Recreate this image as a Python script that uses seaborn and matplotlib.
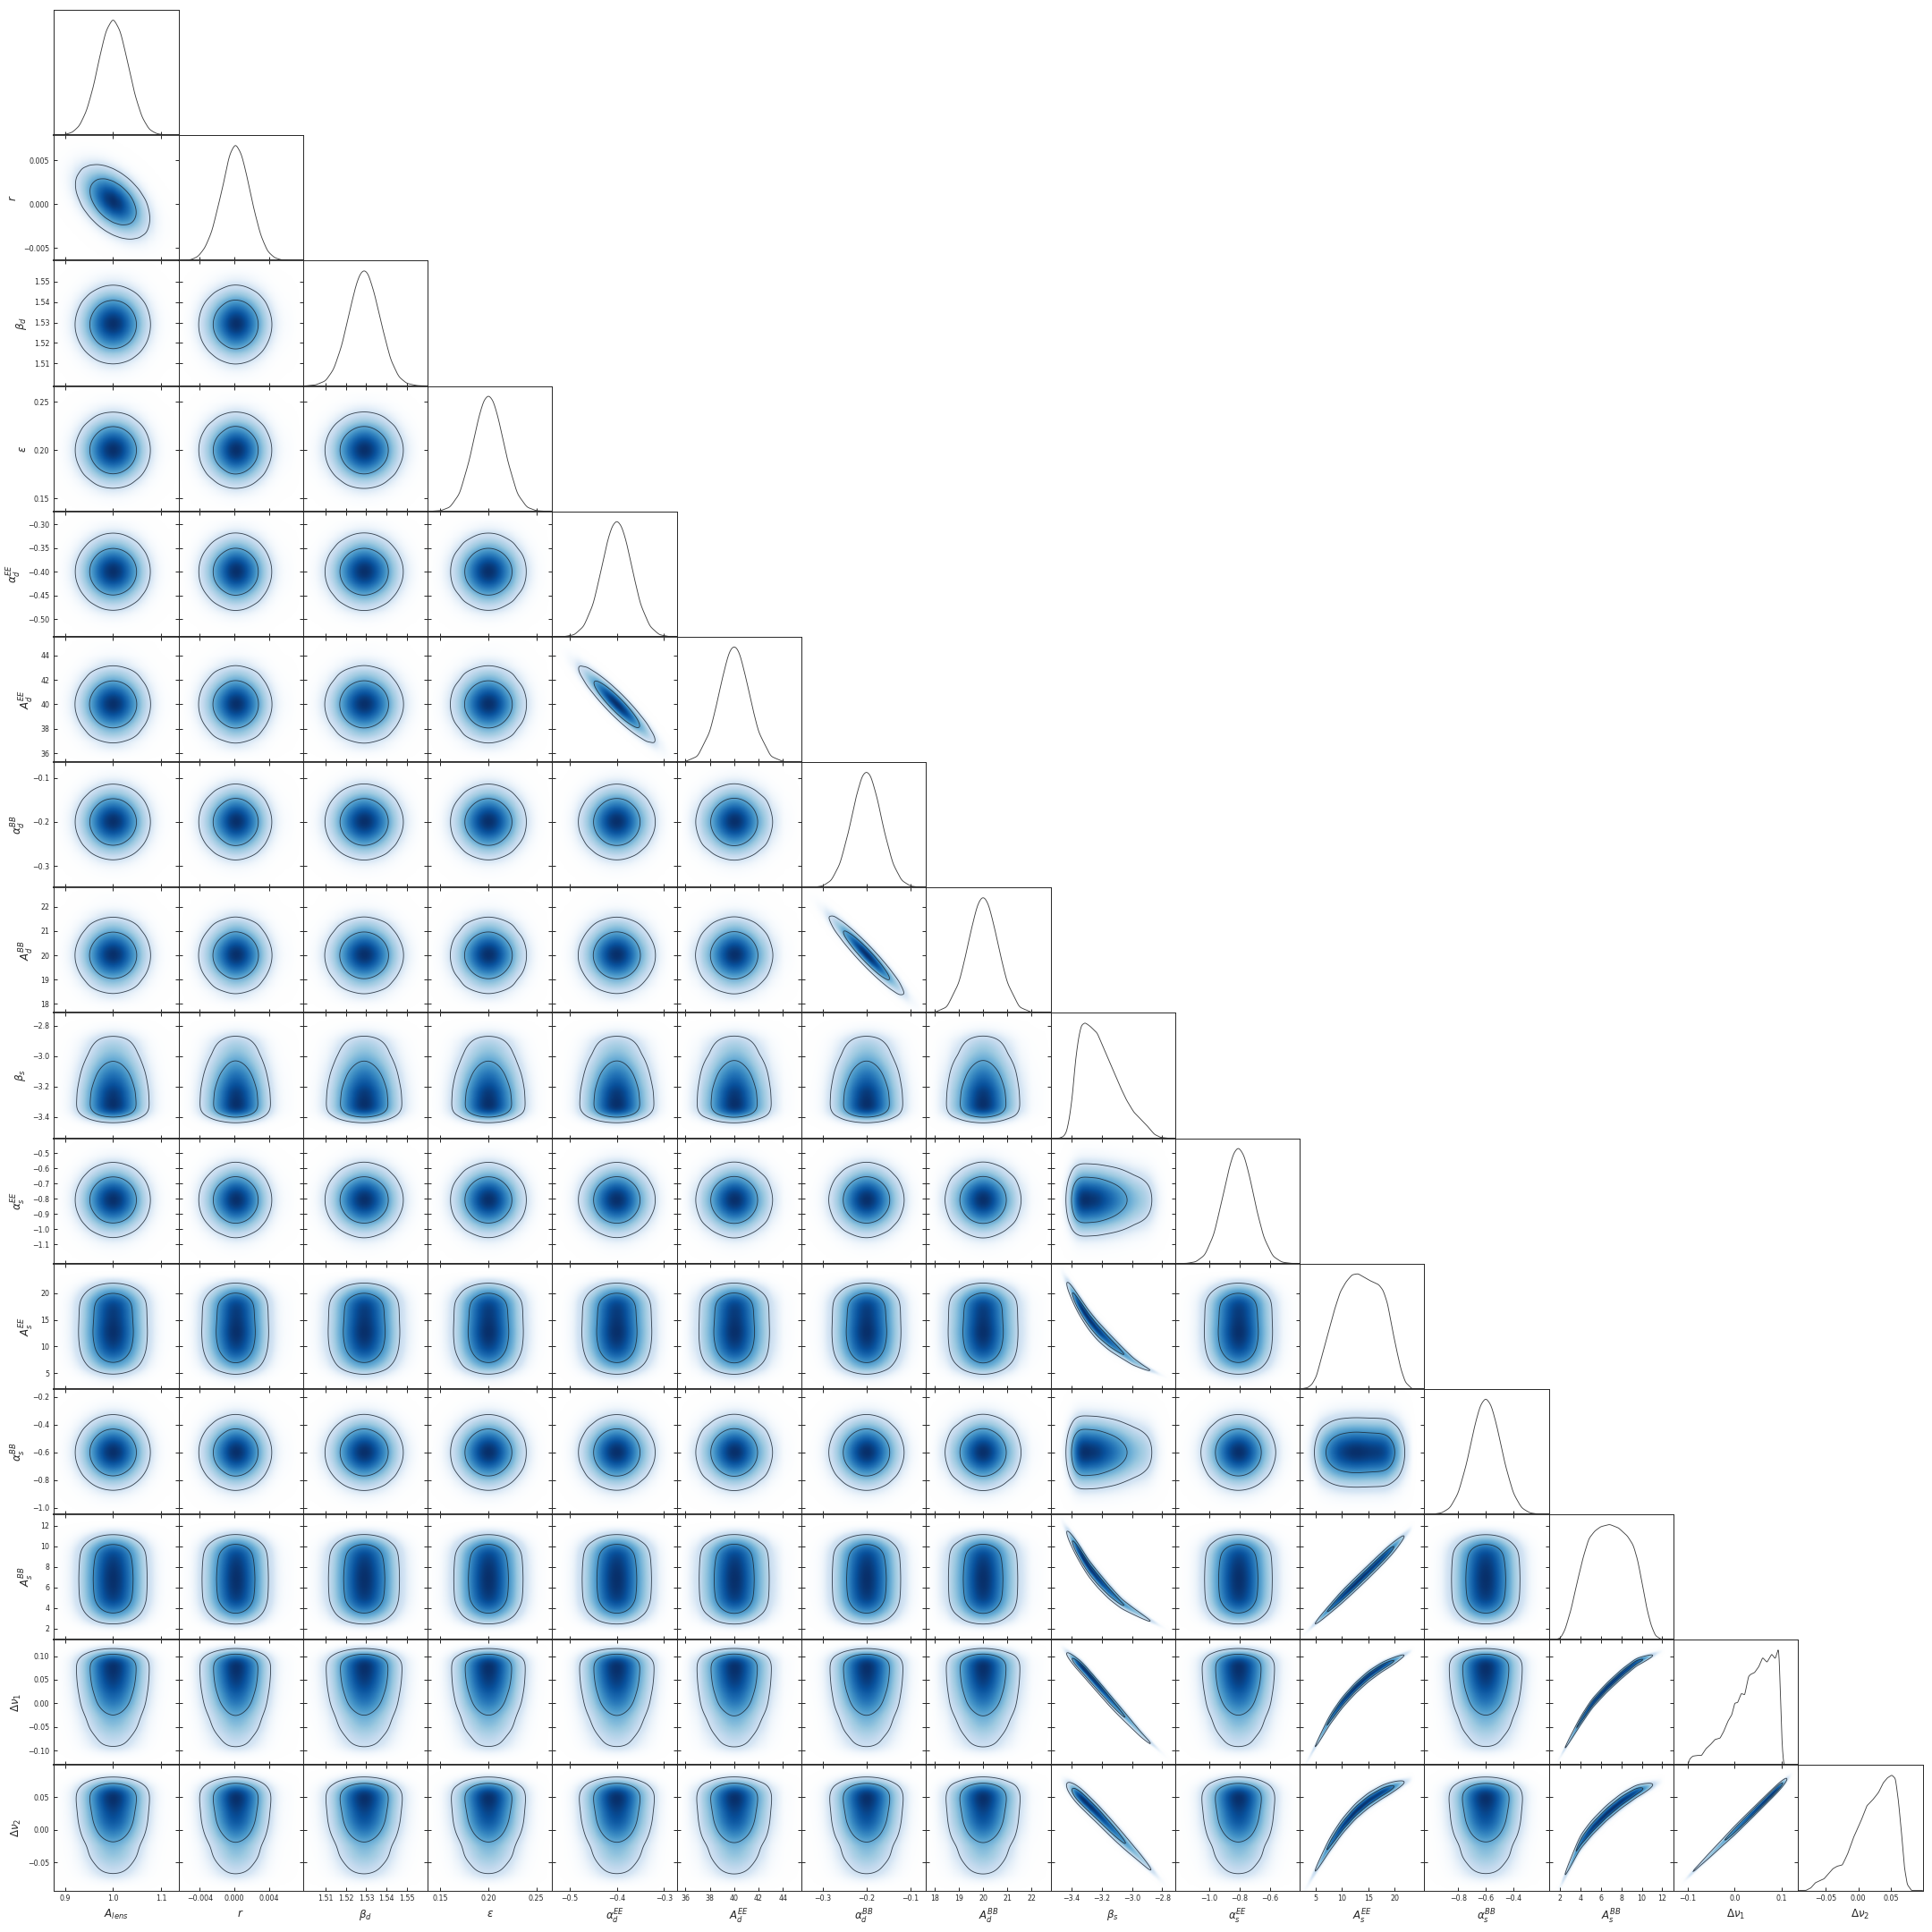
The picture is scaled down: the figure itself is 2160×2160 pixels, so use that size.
import numpy as np
import seaborn as sns
import matplotlib.pyplot as plt
from matplotlib.colors import ListedColormap, PowerNorm

# Parameter names, axis ranges and ticks
labels = [r'$A_{lens}$', r'$r$', r'$\beta_d$', r'$\epsilon$', r'$\alpha_d^{EE}$', r'$A_d^{EE}$',
          r'$\alpha_d^{BB}$', r'$A_d^{BB}$', r'$\beta_s$', r'$\alpha_s^{EE}$', r'$A_s^{EE}$',
          r'$\alpha_s^{BB}$', r'$A_s^{BB}$', r'$\Delta\nu_1$', r'$\Delta\nu_2$']
limits = [(0.877, 1.136), (-0.00645, 0.0079), (1.4989, 1.5603), (0.1367, 0.2665), (-0.537, -0.2727),
          (35.29, 45.52), (-0.348, -0.0646), (17.63, 22.8), (-3.539, -2.714), (-1.227, -0.402),
          (2.0, 25.6), (-1.046, -0.142), (0.904, 13.09), (-0.1305, 0.1348), (-0.0927, 0.0992)]
xticks = [[0.9, 1.0, 1.1], [-0.004, 0.0, 0.004], [1.51, 1.52, 1.53, 1.54, 1.55], [0.15, 0.20, 0.25],
          [-0.5, -0.4, -0.3], [36, 38, 40, 42, 44], [-0.3, -0.2, -0.1], [18, 19, 20, 21, 22],
          [-3.4, -3.2, -3.0, -2.8], [-1.0, -0.8, -0.6], [5, 10, 15, 20], [-0.8, -0.6, -0.4],
          [2, 4, 6, 8, 10, 12], [-0.1, 0.0, 0.1], [-0.05, 0.0, 0.05]]
yticks = [[], [-0.005, 0.0, 0.005], [1.51, 1.52, 1.53, 1.54, 1.55], [0.15, 0.20, 0.25],
          [-0.50, -0.45, -0.40, -0.35, -0.30], [36, 38, 40, 42, 44], [-0.3, -0.2, -0.1],
          [18, 19, 20, 21, 22], [-3.4, -3.2, -3.0, -2.8], [-1.1, -1.0, -0.9, -0.8, -0.7, -0.6, -0.5],
          [5, 10, 15, 20], [-1.0, -0.8, -0.6, -0.4, -0.2], [2, 4, 6, 8, 10, 12],
          [-0.10, -0.05, 0.0, 0.05, 0.10], [-0.05, 0.0, 0.05]]

# 1D curves: x position and height relative to the peak
a_lens_x = [0.88, 0.90, 0.915, 0.93, 0.945, 0.96, 0.97, 0.985, 1.0, 1.015, 1.03, 1.045, 1.06, 1.075, 1.09, 1.105, 1.13]
a_lens_h = [0, .006, .024, .08, .21, .43, .63, .89, 1, .89, .63, .35, .155, .05, .014, .003, 0]
r_x = [-.0060, -.0050, -.0042, -.0034, -.0026, -.0018, -.0012, -.0006, .0001, .0008, .0014, .0022, .0030, .0038, .0046, .0054, .0072]
r_h = [0, .008, .035, .11, .25, .49, .68, .90, 1, .91, .73, .45, .22, .08, .025, .006, 0]
beta_d_x = [1.500, 1.505, 1.510, 1.514, 1.518, 1.522, 1.525, 1.527, 1.529, 1.531, 1.534, 1.538, 1.542, 1.546, 1.550, 1.555, 1.560]
beta_d_h = [.001, .008, .044, .144, .35, .655, .87, .966, 1, .966, .80, .5, .23, .08, .022, .003, 0]
eps_x = [.14, .15, .16, .17, .18, .185, .19, .195, .20, .205, .21, .215, .22, .23, .24, .25, .26]
eps_h = [.001, .005, .036, .152, .435, .625, .81, .95, 1, .95, .81, .625, .435, .152, .036, .005, .001]
alpha_de_x = [-.53, -.51, -.49, -.47, -.45, -.435, -.42, -.41, -.40, -.39, -.38, -.365, -.35, -.33, -.31, -.29, -.275]
alpha_de_h = [0, .002, .017, .09, .28, .54, .82, .95, 1, .95, .82, .54, .28, .09, .017, .002, 0]
a_de_x = [35.5, 36, 37, 38, 38.5, 39, 39.5, 39.75, 40, 40.25, 40.5, 41, 41.5, 42, 43, 44, 45.3]
a_de_h = [0, .005, .05, .26, .47, .71, .92, .98, 1, .98, .92, .71, .47, .26, .05, .005, 0]
alpha_db_x = [-.345, -.32, -.30, -.28, -.26, -.24, -.225, -.21, -.20, -.19, -.175, -.16, -.14, -.12, -.10, -.08, -.065]
alpha_db_h = [0, .002, .012, .06, .205, .49, .76, .96, 1, .96, .76, .49, .205, .06, .012, .002, 0]
a_db_x = [17.7, 18, 18.5, 19, 19.25, 19.5, 19.75, 19.9, 20, 20.1, 20.25, 20.5, 20.75, 21, 21.5, 22, 22.7]
a_db_h = [0, .005, .05, .26, .47, .71, .92, .985, 1, .985, .92, .71, .47, .26, .05, .005, 0]
beta_s_x = [-3.481, -3.452, -3.433, -3.414, -3.394, -3.375, -3.355, -3.336, -3.311, -3.278, -3.23, -3.191, -3.152, -3.113, -3.075, -3.036, -2.988, -2.949, -2.9, -2.852, -2.813, -2.765]
beta_s_h = [0, .016, .055, .174, .37, .66, .858, .976, 1, .97, .91, .79, .67, .555, .437, .33, .226, .174, .108, .034, .008, 0]
alpha_se_x = [-1.22, -1.15, -1.09, -1.03, -.97, -.91, -.87, -.84, -.808, -.77, -.73, -.69, -.64, -.58, -.52, -.46, -.41]
alpha_se_h = [0, .002, .015, .073, .25, .58, .815, .947, 1, .926, .726, .475, .224, .063, .012, .002, 0]
a_se_x = [2.36, 3.48, 4.33, 5.17, 6.29, 7.42, 8.54, 9.66, 10.79, 11.91, 13.03, 14.16, 15.28, 16.97, 17.81, 18.65, 19.49, 20.34, 21.18, 22.02, 23.15]
a_se_h = [.002, .01, .04, .11, .30, .49, .68, .84, .93, .99, 1, .97, .94, .905, .855, .74, .53, .34, .17, .057, .008]
alpha_sb_x = [-1.03, -.98, -.92, -.86, -.80, -.74, -.68, -.64, -.60, -.56, -.52, -.46, -.40, -.34, -.28, -.22, -.15]
alpha_sb_h = [0, .002, .012, .055, .18, .43, .76, .934, 1, .934, .76, .43, .18, .055, .012, .002, 0]
a_sb_x = [1.62, 2.06, 2.49, 3.07, 3.65, 4.23, 4.81, 5.39, 5.97, 6.84, 7.71, 8.58, 9.16, 9.59, 10.03, 10.46, 10.9, 11.33, 11.91]
a_sb_h = [.0025, .016, .087, .26, .49, .705, .876, .942, .98, 1, .97, .90, .82, .69, .49, .28, .126, .034, .003]
dnu1_x = [-.1, -.0956, -.0894, -.08, -.0706, -.0613, -.0519, -.0425, -.0313, -.0238, -.0144, -.00625, 0, .00625, .01375, .02125, .0294, .03375, .0419, .05125, .0594, .06875, .07875, .08625, .0931, .095, .0981, .10125, .1044, .1106]
dnu1_h = [0, .053, .076, .082, .082, .14, .174, .218, .23, .284, .376, .43, .53, .534, .613, .60, .758, .776, .79, .842, .92, .88, .95, .91, 1.0, .89, .47, .153, .008, 0]
dnu2_x = [-.08, -.0732, -.0664, -.0595, -.0527, -.0459, -.0391, -.0323, -.0245, -.0164, -.0073, .0041, .0132, .0223, .0314, .0382, .045, .0518, .0573, .0618, .0664, .0709, .0755, .0814]
dnu2_h = [.002, .02, .065, .084, .10, .144, .188, .21, .22, .314, .458, .60, .733, .785, .85, .93, .976, 1, .97, .785, .52, .21, .052, .005]

curves_x = [a_lens_x, r_x, beta_d_x, eps_x, alpha_de_x, a_de_x, alpha_db_x, a_db_x, beta_s_x, alpha_se_x, a_se_x, alpha_sb_x, a_sb_x, dnu1_x, dnu2_x]
curves_h = [a_lens_h, r_h, beta_d_h, eps_h, alpha_de_h, a_de_h, alpha_db_h, a_db_h, beta_s_h, alpha_se_h, a_se_h, alpha_sb_h, a_sb_h, dnu1_h, dnu2_h]

# how much each curve gets rounded, as a share of the axis range
line_round = [.012, .012, .012, .012, .012, .012, .012, .012, .007, .012, .008, .012, .008, .003, .004]
fill_round = [.018, .018, .018, .018, .018, .018, .018, .018, .014, .018, .014, .018, .014, .04, .035]

# Correlated panels: (row, col) -> ridge x, ridge y, spread about the ridge
ridges = {
    (1, 0): ([.88, 1.13], [.0033, -.0030], [.00155, .00155]),
    (5, 4): ([-.53, -.28], [44.68, 35.68], [.49, .49]),
    (7, 6): ([-.34, -.07], [22.55, 17.63], [.21, .21]),
    (10, 8): ([-3.406, -3.357, -3.29, -3.23, -3.15, -3.07, -2.995, -2.92, -2.865],
              [20.5, 18.0, 15.1, 13.0, 10.8, 8.9, 7.2, 6.0, 5.3],
              [.7, .75, .8, .8, .75, .58, .46, .29, .23]),
    (12, 8): ([-3.406, -3.347, -3.29, -3.23, -3.15, -3.07, -2.995, -2.92, -2.865],
              [10.7, 9.25, 7.9, 6.8, 5.5, 4.4, 3.7, 3.05, 2.6],
              [.32, .35, .35, .35, .32, .25, .21, .16, .12]),
    (13, 8): ([-3.406, -3.328, -3.23, -3.133, -3.036, -2.938, -2.87],
              [.097, .073, .037, .001, -.033, -.067, -.087],
              [.0046, .0058, .0058, .0058, .0052, .004, .0029]),
    (14, 8): ([-3.406, -3.328, -3.23, -3.133, -3.036, -2.938, -2.87],
              [.0627, .0467, .0247, .0013, -.022, -.045, -.062],
              [.0058, .0063, .0063, .0063, .0058, .0046, .0035]),
    (12, 10): ([4.6, 10, 15, 20, 21.6], [2.3, 5.05, 7.5, 10.0, 10.85], [.14, .28, .3, .28, .21]),
    (13, 10): ([5.45, 7.7, 10, 12.5, 15, 17.6, 20, 21.5],
               [-.081, -.035, .001, .032, .057, .077, .091, .10],
               [.0035, .0052, .0052, .0052, .0052, .0046, .004, .0029]),
    (14, 10): ([5.45, 7.7, 10, 12.5, 15, 17.6, 20, 21.5],
               [-.055, -.022, .005, .028, .045, .058, .067, .072],
               [.0035, .0053, .0053, .0053, .0053, .0048, .0041, .0032]),
    (13, 12): ([2.78, 3.94, 5.1, 6.55, 8, 9.45, 10.9],
               [-.083, -.039, -.001, .033, .062, .087, .10],
               [.0029, .0044, .0044, .0044, .0044, .0039, .0029]),
    (14, 12): ([2.78, 3.94, 5.1, 6.55, 8, 9.45, 10.9],
               [-.0585, -.0196, .0032, .026, .0445, .059, .068],
               [.0035, .0052, .0053, .0053, .0052, .0046, .0035]),
    (14, 13): ([-.085, .0, .1156], [-.061, -.0008, .081], [.0021, .0033, .0025]),
}

n = len(labels)
grid_size = 160

sns.set_theme(style='white', rc={'font.size': 5.7, 'xtick.labelsize': 5.7, 'ytick.labelsize': 5.7,
                                 'axes.labelsize': 8.6, 'axes.linewidth': 0.7})

# Blues, fading to pure white at the bottom
base = sns.color_palette('Blues', as_cmap=True)(np.linspace(0, 1, 256))
fade = np.clip(np.arange(256) / 42, 0, 1)[:, None]
base[:, :3] = base[:, :3] * fade + (1 - fade)
blues = ListedColormap(base)
norm = PowerNorm(0.55, vmin=0, vmax=1)


def soften(values, width):
    # gaussian kernel over grid cells, edges held
    half = int(4 * width) + 1
    kernel = np.exp(-0.5 * (np.arange(-half, half + 1) / width) ** 2)
    kernel /= kernel.sum()
    return np.convolve(np.pad(values, half, mode='edge'), kernel, mode='valid')


def curve_on(i, grid, share):
    cells = share * (limits[i][1] - limits[i][0]) / (grid[1] - grid[0])
    raw = np.interp(grid, curves_x[i], curves_h[i], left=0, right=0)
    return soften(raw, cells)


fig, axes = plt.subplots(n, n, figsize=(21.6, 21.6), dpi=100)
fig.subplots_adjust(left=60.3 / 2160, right=2149.5 / 2160, top=1 - 11 / 2160, bottom=1 - 2113.5 / 2160,
                    wspace=0, hspace=0)

for row in range(n):
    for col in range(n):
        ax = axes[row, col]
        if col > row:
            ax.set_visible(False)
            continue
        xs = np.linspace(*limits[col], grid_size)
        if col == row:
            fine = np.linspace(*limits[col], 600)
            line = curve_on(col, fine, line_round[col])
            sns.lineplot(x=fine, y=line / line.max(), color='#3c3c3c', linewidth=0.62,
                         estimator=None, legend=False, ax=ax)
            ax.set_ylim(0, 1.09)
            ax.set_yticks([])
            ax.tick_params(axis='x', direction='in', length=3, width=0.7, bottom=True, top=False)
        else:
            ys = np.linspace(*limits[row], grid_size)
            if (row, col) in ridges:
                px = curve_on(col, xs, 0.03 if col == 13 else 0.01)
                rx, ry, rs = ridges[(row, col)]
                # straight continuation past the read ridge ends
                centre = np.interp(xs, rx, ry)
                low = xs < rx[0]
                high = xs > rx[-1]
                centre[low] = ry[0] + (xs[low] - rx[0]) * (ry[1] - ry[0]) / (rx[1] - rx[0])
                centre[high] = ry[-1] + (xs[high] - rx[-1]) * (ry[-1] - ry[-2]) / (rx[-1] - rx[-2])
                spread = soften(np.interp(xs, rx, rs), 5)
                centre = soften(centre, 3)
                Z = px[None, :] * np.exp(-0.5 * ((ys[:, None] - centre[None, :]) / spread[None, :]) ** 2)
            else:
                px = curve_on(col, xs, fill_round[col])
                py = curve_on(row, ys, fill_round[row])
                Z = py[:, None] * px[None, :]
            Z = Z / Z.max()
            ax.imshow(Z, extent=(*limits[col], *limits[row]), origin='lower', aspect='auto',
                      cmap=blues, norm=norm, interpolation='bilinear')
            # lines around 68 and 95 per cent of the mass
            ordered = np.sort(Z.ravel())[::-1]
            mass = np.cumsum(ordered) / ordered.sum()
            levels = [ordered[np.searchsorted(mass, 0.95)], ordered[np.searchsorted(mass, 0.68)]]
            ax.contour(xs, ys, Z, levels=levels, colors='#1c2733', linewidths=0.62, alpha=0.85)
            ax.set_yticks(yticks[row])
            ax.tick_params(axis='both', direction='in', length=3, width=0.7,
                           bottom=True, top=True, left=True, right=True)
        ax.set_xlim(*limits[col])
        if col != row:
            ax.set_ylim(*limits[row])
        ax.set_xticks(xticks[col])

        ax.spines['left'].set_linewidth(0.7)
        ax.spines['right'].set_linewidth(0.7)
        ax.spines['bottom'].set_linewidth(0.7 if row == n - 1 else 1.2)
        ax.spines['top'].set_linewidth(0.7 if col == row else 1.2)

        if row == n - 1:
            ax.set_xlabel(labels[col])
        else:
            ax.set_xlabel('')
            ax.tick_params(axis='x', labelbottom=False)
        if col == 0 and row > 0:
            ax.set_ylabel(labels[row])
        else:
            ax.set_ylabel('')
            ax.tick_params(axis='y', labelleft=False)

fig.savefig('out.png', dpi=100)
